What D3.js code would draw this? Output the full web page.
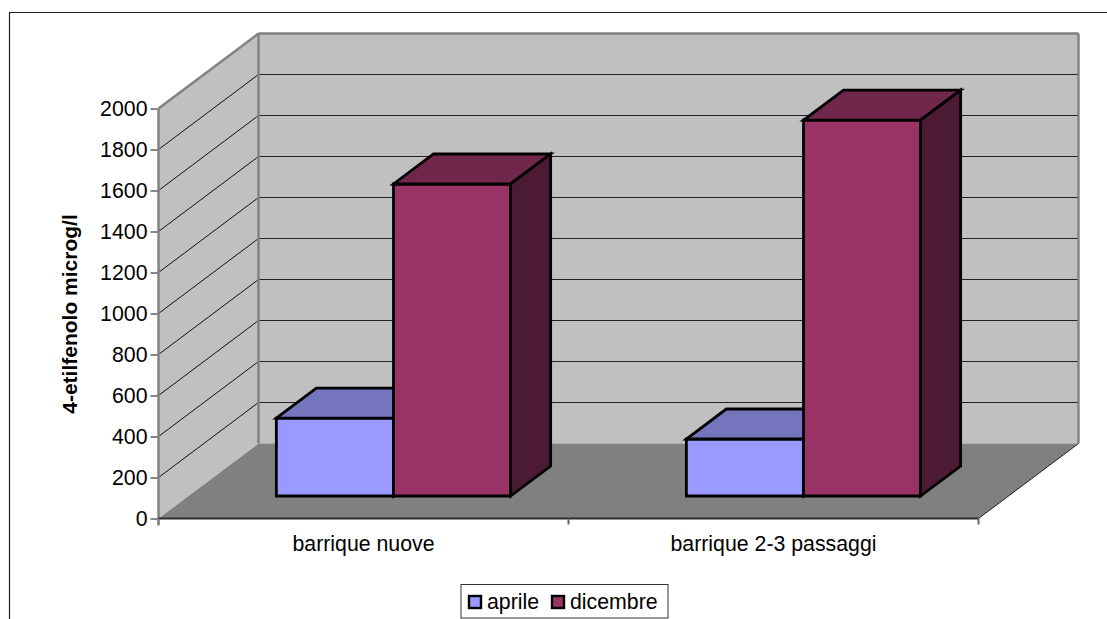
<!DOCTYPE html>
<html>
<head>
<meta charset="utf-8">
<style>
  html, body { margin: 0; padding: 0; background: #fff; overflow: hidden; }
  svg { display: block; }
  text { font-family: "Liberation Sans", Arial, sans-serif; fill: #000; }
</style>
<script src="https://cdn.jsdelivr.net/npm/d3@7/dist/d3.min.js"></script>
</head>
<body>
<svg id="chart" width="1107" height="619"></svg>
<script>
// Values in microg/l for each barrel type
const categories = ["barrique nuove", "barrique 2-3 passaggi"];
const seriesNames = ["aprile", "dicembre"];
const aprile = [380, 278];
const dicembre = [1522, 1834];
const valueTicks = d3.range(0, 2001, 200);

const faceColors = {
  aprile:   { front: "#9999FF", top: "#7575BE", side: "#5A5A96" },
  dicembre: { front: "#993366", top: "#71264C", side: "#4D1A33" }
};

const labelSize = "21.3px";
const svg = d3.select("#chart");

// Front plane scales
const y = d3.scaleLinear().domain([0, 2000]).range([518.5, 108.5]);
const x0 = d3.scaleBand().domain(categories).range([158.5, 978.5]);
// Two touching bars with a 150% gap split across both sides of the band
const x1 = d3.scaleBand().domain(seriesNames).range([0, x0.bandwidth()])
  .paddingInner(0).paddingOuter(0.75);

// Oblique projection: depth 0 is the front plane, 1 the back wall
const depthX = d3.scaleLinear().domain([0, 1]).range([0, 100]);
const depthY = d3.scaleLinear().domain([0, 1]).range([0, -75]);
const project = (px, py, d) => [px + depthX(d), py + depthY(d)];
const poly = pts => "M" + pts.map(p => p.join(",")).join("L") + "Z";
const seg = (g, a, b, color, width) => g.append("line")
  .attr("x1", a[0]).attr("y1", a[1]).attr("x2", b[0]).attr("y2", b[1])
  .attr("stroke", color).attr("stroke-width", width);

// Outer chart frame, open on the right and at the bottom
svg.append("path")
  .attr("d", "M9.5,619V12.5H1107")
  .attr("fill", "none").attr("stroke", "#222").attr("stroke-width", 1.2);

const [xL, xR] = x0.range();
const [yBase, yTop] = y.range();

// Walls and floor
const walls = svg.append("g");
walls.append("path")
  .attr("d", poly([project(xL, yBase, 1), project(xR, yBase, 1), project(xR, yTop, 1), project(xL, yTop, 1)]))
  .attr("fill", "#C0C0C0");
walls.append("path")
  .attr("d", poly([[xL, yBase], project(xL, yBase, 1), project(xL, yTop, 1), [xL, yTop]]))
  .attr("fill", "#C0C0C0");
walls.append("path")
  .attr("d", poly([[xL, yBase], [xR, yBase], project(xR, yBase, 1), project(xL, yBase, 1)]))
  .attr("fill", "#808080");

// Gridlines across the side wall and the back wall
const grid = svg.append("g");
valueTicks.filter(v => v > 0 && v < 2000).forEach(v => {
  const a = [xL, y(v)], b = project(xL, y(v), 1), c = project(xR, y(v), 1);
  seg(grid, a, b, "#111", 1);
  seg(grid, b, c, "#222", 1);
});

// Wall outlines
const edges = svg.append("g");
const grey = "#808080";
seg(edges, [xL, yTop], project(xL, yTop, 1), grey, 2.4);
seg(edges, project(xL, yTop, 1), project(xR, yTop, 1), grey, 2.4);
seg(edges, project(xL, yTop, 1), project(xL, yBase, 1), grey, 2.4);
seg(edges, project(xR, yTop, 1), project(xR, yBase, 1), grey, 2.4);
seg(edges, [xL, yTop], [xL, yBase + 7], grey, 2.4);
seg(edges, [xR, yBase], project(xR, yBase, 1), "#222", 1);

// Value axis: ticks and labels only, the line itself is the wall edge
const yAxis = svg.append("g")
  .attr("transform", `translate(${xL - 1},0)`)
  .call(d3.axisLeft(y).tickValues(valueTicks).tickFormat(d3.format("d")).tickSize(7).tickPadding(3));
yAxis.select(".domain").remove();
yAxis.selectAll(".tick line").attr("stroke", "#111").attr("stroke-width", 1);
yAxis.selectAll("text").style("font-size", labelSize).attr("fill", "#000");

// Category axis
seg(svg, [xL, yBase], [xR, yBase], "#2a2a2a", 2);
x0.domain().concat([null]).forEach((c, i) => {
  const px = c === null ? xR : x0(c);
  seg(svg, [px, yBase], [px, yBase + 6], i === 0 ? grey : "#666", 2);
});
svg.append("g").selectAll("text").data(categories).join("text")
  .attr("x", c => x0(c) + x0.bandwidth() / 2)
  .attr("y", 551)
  .attr("text-anchor", "middle")
  .style("font-size", labelSize)
  .text(c => c);

// Bars sit between 30% and 70% of the floor depth
const depthNear = 0.3, depthFar = 0.7;
const seriesValues = { aprile, dicembre };
const bars = svg.append("g")
  .attr("stroke", "#000").attr("stroke-width", 2.8).attr("stroke-linejoin", "miter");
seriesNames.forEach(name => {
  categories.forEach((cat, i) => {
    const left = x0(cat) + x1(name), right = left + x1.bandwidth();
    const top = y(seriesValues[name][i]), base = y(0);
    // The column height is measured from its own footprint on the floor
    const fl = project(left, base, depthNear), fr = project(right, base, depthNear);
    const tl = project(left, top, depthNear), tr = project(right, top, depthNear);
    const bl = project(left, top, depthFar), br = project(right, top, depthFar);
    const bb = project(right, base, depthFar);
    bars.append("path").attr("d", poly([fl, fr, tr, tl])).attr("fill", faceColors[name].front);
    bars.append("path").attr("d", poly([tl, tr, br, bl])).attr("fill", faceColors[name].top);
    bars.append("path").attr("d", poly([fr, bb, br, tr])).attr("fill", faceColors[name].side);
  });
});

// Value axis title
svg.append("text")
  .attr("transform", "translate(77,314) rotate(-90)")
  .attr("text-anchor", "middle")
  .style("font-size", "21px").style("font-weight", "bold")
  .text("4-etilfenolo microg/l");

// Legend
const legend = svg.append("g");
legend.append("rect")
  .attr("x", 461).attr("y", 584.5).attr("width", 207).attr("height", 33.5)
  .attr("fill", "#fff").attr("stroke", "#333").attr("stroke-width", 1);
const legendX = d3.scaleOrdinal().domain(seriesNames).range([469, 552]);
seriesNames.forEach(name => {
  legend.append("rect")
    .attr("x", legendX(name)).attr("y", 596).attr("width", 12).attr("height", 12)
    .attr("fill", faceColors[name].front).attr("stroke", "#000").attr("stroke-width", 2.4);
  legend.append("text")
    .attr("x", legendX(name) + 18).attr("y", 608.5)
    .style("font-size", labelSize)
    .text(name);
});
</script>
</body>
</html>
